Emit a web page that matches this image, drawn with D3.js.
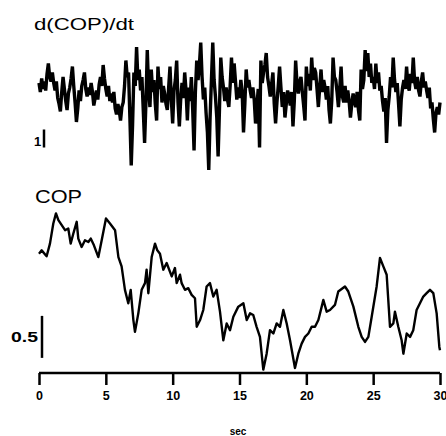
<!DOCTYPE html>
<html><head><meta charset="utf-8">
<script src="https://cdn.jsdelivr.net/npm/d3@7"></script>
<style>body{margin:0;background:#fff}svg{display:block}</style>
</head><body><svg id="c" width="446" height="436"></svg>
<script>
// ---- data ----
const xTicks = [0, 5, 10, 15, 20, 25, 30];
const xLabel = "sec";
const topTitle = "d(COP)/dt";
const botTitle = "COP";
const dtStep = 0.1; // seconds between samples of d(COP)/dt
const dcopValues = [
 0.8,0.2,1.1,0.4,0.9,0.3,1.4,2.1,1.2,0.9,
 1.5,0.8,0.3,0.9,-0.2,-0.6,-1.1,0.2,1.2,0.4,
 -0.4,-1.0,0.1,0.5,1.1,1.9,0.6,-0.5,-1.8,-0.9,
 0.3,-0.4,0.6,1.0,1.5,0.4,-0.1,0.5,0.0,0.8,
 0.2,-0.7,-0.2,0.3,-0.3,0.7,1.2,0.6,2.0,1.1,
 0.4,-0.1,0.6,-0.4,0.1,-0.5,0.2,-0.9,-1.3,-0.6,
 -1.0,-1.7,-0.8,-0.5,0.6,2.3,1.2,1.5,-1.5,-4.7,
 -2.0,1.5,0.6,3.2,1.0,1.7,0.3,1.2,-1.0,-3.2,
 -0.5,3.0,0.4,-0.8,1.7,0.2,1.0,-0.6,-1.7,1.9,
 0.4,1.2,-0.5,0.6,0.1,-0.6,-1.0,0.5,1.9,-0.3,
 -1.9,0.3,1.0,2.3,-0.5,-2.1,-0.3,0.8,-0.2,1.5,
 0.3,-1.7,0.5,-0.4,1.2,-1.0,-3.7,0.2,2.3,1.0,
 2.0,3.5,1.2,-0.3,0.5,-1.2,-2.5,-5.0,-1.5,1.0,
 3.5,1.0,-0.1,-1.5,-4.1,-1.0,2.5,1.2,0.5,-0.4,
 0.5,-0.3,-0.8,0.6,2.5,0.8,2.1,0.9,-0.3,0.5,
 -0.2,1.0,0.2,-2.5,-0.6,1.7,0.5,1.0,0.3,-0.2,
 0.5,-0.3,-1.9,-0.8,0.4,-3.5,2.3,0.8,1.5,2.0,
 2.8,1.2,0.6,-0.1,0.7,1.5,-0.6,-1.9,-0.5,0.6,
 1.9,0.5,-0.8,0.2,-1.5,-0.6,0.3,-0.1,-0.7,0.2,
 -2.1,-0.4,2.3,0.8,0.1,0.9,1.2,0.2,-0.7,-1.7,
 1.9,0.6,1.4,0.3,2.5,1.0,1.8,1.5,0.4,-0.8,
 0.5,1.7,0.2,1.0,0.5,-0.3,0.6,-1.0,-1.9,-0.4,
 2.5,1.2,1.0,0.2,-0.8,0.4,1.9,-0.1,-0.5,0.6,
 -0.5,0.3,-0.4,-1.5,-0.6,0.1,-0.5,-0.8,0.2,-1.0,
 -1.7,1.7,0.4,1.0,3.0,1.6,2.8,1.2,2.1,0.8,
 1.2,0.4,2.1,0.8,1.5,0.3,0.6,-0.4,-1.1,-0.2,
 -3.2,-1.0,-0.1,1.2,0.5,2.5,1.0,0.2,0.8,-0.6,
 -2.1,-0.3,0.5,1.0,0.4,1.9,0.6,0.3,1.4,0.8,
 2.5,0.9,0.4,1.2,0.3,-0.1,0.9,1.5,0.5,0.9,
 0.3,-0.2,0.5,-0.9,-0.5,-1.6,-2.5,-1.2,-0.8,-1.3,-0.5
];
const copTimes = [
 0,0.20,0.57,0.82,1.07,1.27,1.45,1.70,1.95,2.19,2.37,2.57,2.82,2.94,3.19,3.44,3.69,3.87,4.11,4.44,
 4.69,5.01,5.31,5.69,5.94,6.18,6.43,6.68,6.86,7.06,7.18,7.43,7.68,7.93,8.05,8.18,8.43,8.68,8.85,9.05,
 9.30,9.55,9.93,10.17,10.30,10.55,10.67,10.92,11.17,11.42,11.67,11.80,12.05,12.29,12.54,12.79,13.04,13.29,13.54,13.79,
 14.04,14.29,14.54,14.91,15.29,15.54,15.79,16.03,16.28,16.53,16.78,17.03,17.28,17.53,17.78,18.03,18.28,18.53,18.78,19.15,
 19.40,19.65,19.90,20.15,20.40,20.65,20.90,21.15,21.27,21.52,21.77,22.14,22.39,22.89,23.14,23.52,23.89,24.14,24.39,24.64,
 24.89,25.26,25.51,25.76,26.01,26.26,26.51,26.63,26.88,27.13,27.26,27.51,27.76,28.00,28.25,28.50,28.75,29.00,29.25,29.50,
 29.75,29.95,30.00
];
const copValues = [
 1.42,1.46,1.39,1.54,1.78,1.90,1.82,1.76,1.70,1.72,1.54,1.66,1.80,1.60,1.50,1.58,1.56,1.60,1.52,1.38,
 1.58,1.84,1.78,1.70,1.38,1.27,0.99,0.83,0.99,0.63,0.49,0.71,0.99,1.07,1.23,0.95,1.38,1.54,1.46,1.42,
 1.23,1.31,1.15,1.25,1.07,1.17,1.07,0.99,1.01,0.93,0.89,0.55,0.63,0.75,1.03,1.07,0.91,0.99,0.73,0.39,
 0.59,0.51,0.67,0.79,0.83,0.63,0.71,0.69,0.55,0.43,0.04,0.23,0.51,0.47,0.59,0.55,0.75,0.59,0.39,0.06,
 0.23,0.35,0.43,0.47,0.55,0.55,0.63,0.79,0.87,0.73,0.75,0.81,0.97,1.03,0.97,0.79,0.55,0.43,0.37,0.43,
 0.67,1.03,1.37,1.27,1.17,0.55,0.59,0.73,0.55,0.39,0.23,0.47,0.43,0.51,0.75,0.83,0.91,0.95,0.99,0.95,
 0.71,0.31,0.27
];
const dcopBar = {from: -3.5, to: -2.5, label: "1"};
const copBar = {from: 0.18, to: 0.68, label: "0.5"};

// ---- drawing ----
const FONT = "Liberation Sans, Arial, Helvetica, sans-serif";
const svg = d3.select("#c");
const x = d3.scaleLinear().domain([0, 30]).range([39, 440]);
const yTop = d3.scaleLinear().domain([-5, 3.5]).range([170, 42.5]);
const yBot = d3.scaleLinear().domain([0, 1.9]).range([373, 213.4]);

const dcop = dcopValues.map((v, i) => ({t: i * dtStep, v}));
const cop = copTimes.map((t, i) => ({t, v: copValues[i]}));

svg.append("path").datum(dcop)
  .attr("fill", "none").attr("stroke", "#000").attr("stroke-width", 3.4)
  .attr("stroke-linejoin", "miter").attr("stroke-miterlimit", 2)
  .attr("d", d3.line().x(d => x(d.t)).y(d => yTop(d.v)));

svg.append("path").datum(cop)
  .attr("fill", "none").attr("stroke", "#000").attr("stroke-width", 2.4)
  .attr("stroke-linejoin", "round")
  .attr("d", d3.line().x(d => x(d.t)).y(d => yBot(d.v)));

// axis
const axisG = svg.append("g").attr("transform", "translate(0,373)");
axisG.call(d3.axisBottom(x).tickValues(xTicks).tickSize(12).tickPadding(6).tickFormat(d3.format("d")));
axisG.select(".domain").attr("d", `M${x(0)},0H${x(30)}`).attr("stroke-width", 2.5);
axisG.selectAll(".tick line").attr("stroke-width", 2.5);
axisG.selectAll(".tick text")
  .attr("font-family", FONT)
  .attr("font-weight", "bold").attr("font-size", 12.5).attr("fill", "#000");

svg.append("text").text(xLabel).attr("x", 238).attr("y", 435)
  .attr("text-anchor", "middle").attr("font-family", FONT)
  .attr("font-weight", "bold").attr("font-size", 10);

// titles
svg.append("text").text(topTitle).attr("x", 34).attr("y", 30)
  .attr("font-family", FONT).attr("font-size", 17)
  .attr("textLength", 100).attr("lengthAdjust", "spacingAndGlyphs");
svg.append("text").text(botTitle).attr("x", 35).attr("y", 203)
  .attr("font-family", FONT).attr("font-size", 18)
  .attr("textLength", 47).attr("lengthAdjust", "spacingAndGlyphs");

// scale bars
svg.append("line").attr("x1", 44).attr("x2", 44)
  .attr("y1", yTop(dcopBar.from)).attr("y2", yTop(dcopBar.to) - 3)
  .attr("stroke", "#000").attr("stroke-width", 2.5);
svg.append("text").text(dcopBar.label).attr("x", 34).attr("y", 146)
  .attr("font-family", FONT).attr("font-weight", "bold").attr("font-size", 13);
svg.append("line").attr("x1", 42).attr("x2", 42)
  .attr("y1", yBot(copBar.from)).attr("y2", yBot(copBar.to))
  .attr("stroke", "#000").attr("stroke-width", 2.5);
svg.append("text").text(copBar.label).attr("x", 38).attr("y", 342)
  .attr("text-anchor", "end")
  .attr("font-family", FONT).attr("font-weight", "bold").attr("font-size", 14)
  .attr("textLength", 27).attr("lengthAdjust", "spacingAndGlyphs");
</script></body></html>
